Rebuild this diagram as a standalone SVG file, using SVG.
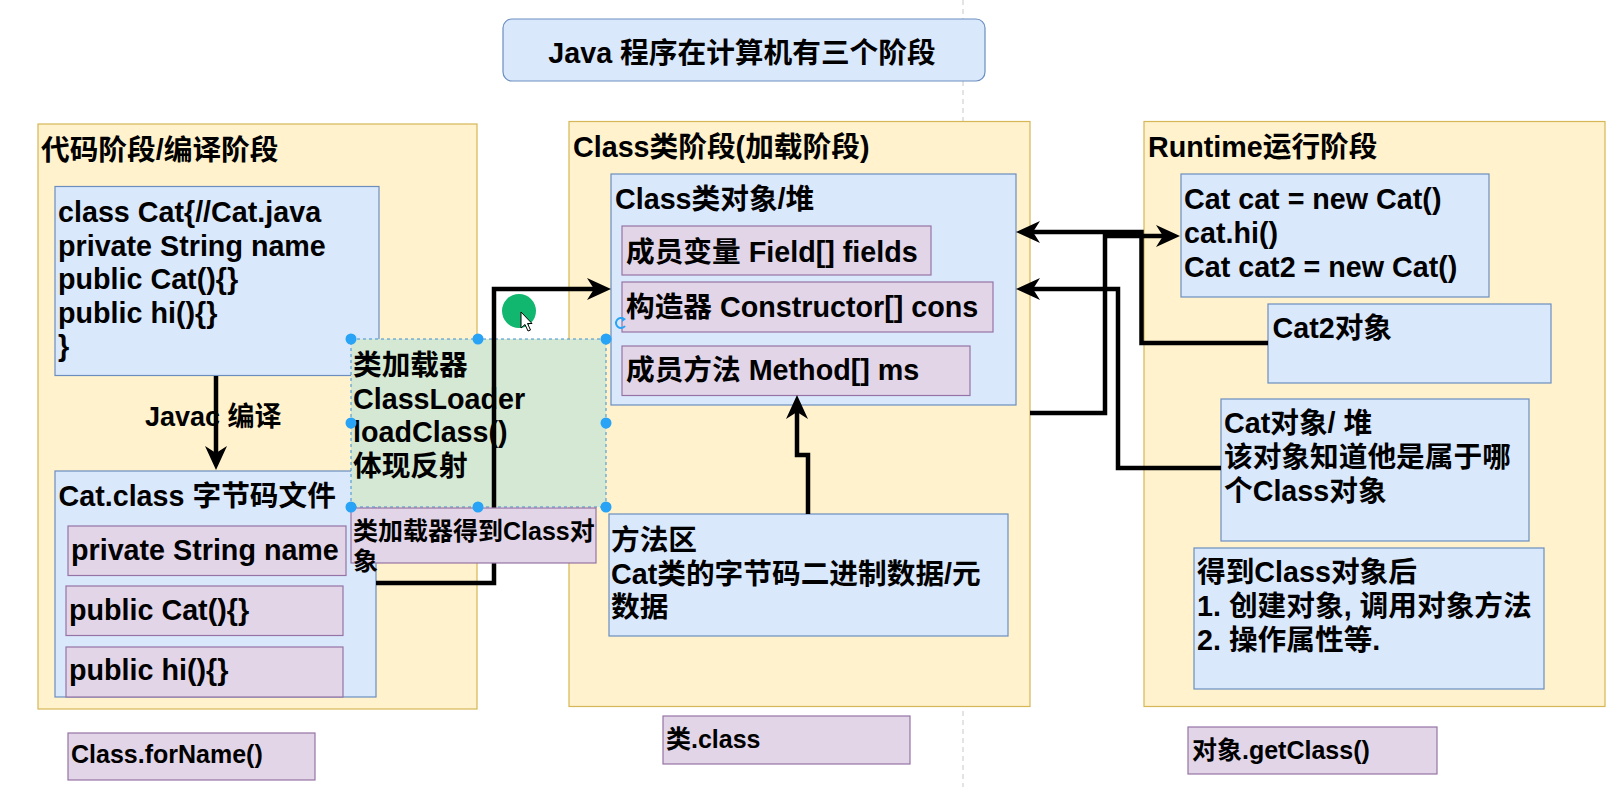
<svg xmlns="http://www.w3.org/2000/svg" width="1613" height="787" viewBox="0 0 1613 787">
<style>
.t{font-family:"Liberation Sans","Noto Sans CJK SC",sans-serif;font-weight:bold;font-size:28.7px;fill:#000}
.s{font-size:25px}
.yl{fill:#fff2cc;stroke:#d6b656;stroke-width:1.2}
.bl{fill:#dae8fc;stroke:#6c8ebf;stroke-width:1.2}
.pu{fill:#e1d5e7;stroke:#9673a6;stroke-width:1.2}
.ln{fill:none;stroke:#000;stroke-width:4.5;stroke-linejoin:miter}
.hd{fill:#29a3f5}
</style>
<defs>
<marker id="ah" viewBox="-17 -12 26 24" markerWidth="26" markerHeight="24" refX="0" refY="0" markerUnits="userSpaceOnUse" orient="auto">
<path d="M8,0 L-16,-11 L-9,0 L-16,11 Z" fill="#000"/>
</marker>
</defs>
<rect width="1613" height="787" fill="#fff"/>
<line x1="963" y1="0" x2="963" y2="787" stroke="#c8c8c8" stroke-width="1" stroke-dasharray="5 4"/>

<g id="title">
<rect x="503" y="19" width="482" height="62" rx="9" class="bl"/>
<text class="t" x="742" y="63" text-anchor="middle">Java 程序在计算机有三个阶段</text>
</g>

<g id="stage-code">
<rect x="38" y="124" width="439" height="585" class="yl"/>
<text class="t" x="41" y="160">代码阶段/编译阶段</text>
</g>
<g id="stage-class">
<rect x="569" y="121.5" width="461" height="585" class="yl"/>
<text class="t" x="573" y="157">Class类阶段(加载阶段)</text>
</g>
<g id="stage-runtime">
<rect x="1144" y="121.5" width="461" height="585" class="yl"/>
<text class="t" x="1148" y="157">Runtime运行阶段</text>
</g>

<g id="cat-java">
<rect x="55" y="186.5" width="324" height="189" class="bl"/>
<text class="t" x="58" y="222">class Cat{//Cat.java</text>
<text class="t" x="58" y="255.5">private String name</text>
<text class="t" x="58" y="289">public Cat(){}</text>
<text class="t" x="58" y="322.5">public hi(){}</text>
<text class="t" x="58" y="356">}</text>
</g>

<g id="javac-label">
<text class="t" x="145" y="426" style="font-size:27px">Javac 编译</text>
</g>

<g id="cat-class">
<rect x="55" y="471" width="321" height="226" class="bl"/>
<text class="t" x="58.5" y="505.5">Cat.class 字节码文件</text>
</g>
<g id="cc-field">
<rect x="68" y="526" width="278" height="49.5" class="pu"/>
<text class="t" x="71" y="560">private String name</text>
</g>
<g id="cc-ctor">
<rect x="66" y="586" width="277" height="49.5" class="pu"/>
<text class="t" x="69" y="619.5">public Cat(){}</text>
</g>
<g id="cc-method">
<rect x="66" y="647" width="277" height="50" class="pu"/>
<text class="t" x="69" y="680">public hi(){}</text>
</g>

<g id="forname">
<rect x="68" y="733" width="247" height="47" class="pu"/>
<text class="t s" x="71" y="763">Class.forName()</text>
</g>

<g id="class-object">
<rect x="611" y="174" width="405" height="231" class="bl"/>
<text class="t" x="615" y="209">Class类对象/堆</text>
</g>
<g id="co-field">
<rect x="622" y="226" width="309" height="49" class="pu"/>
<text class="t" x="626" y="261.5">成员变量 Field[] fields</text>
</g>
<g id="co-ctor">
<rect x="622" y="282" width="371" height="50" class="pu"/>
<text class="t" x="626" y="316.5">构造器 Constructor[] cons</text>
</g>
<g id="co-method">
<rect x="622" y="346" width="348" height="49.5" class="pu"/>
<text class="t" x="626" y="380">成员方法 Method[] ms</text>
</g>

<g id="method-area">
<rect x="609" y="514" width="399" height="122" class="bl"/>
<text class="t" x="611" y="550">方法区</text>
<text class="t" x="611" y="583.5">Cat类的字节码二进制数据/元</text>
<text class="t" x="611" y="617">数据</text>
</g>

<g id="dot-class">
<rect x="663" y="716" width="247" height="48" class="pu"/>
<text class="t s" x="666" y="748">类.class</text>
</g>

<g id="runtime-code">
<rect x="1181" y="174" width="308" height="123" class="bl"/>
<text class="t" x="1184" y="208.5">Cat cat = new Cat()</text>
<text class="t" x="1184" y="242.5">cat.hi()</text>
<text class="t" x="1184" y="276.5">Cat cat2 = new Cat()</text>
</g>
<g id="cat2-object">
<rect x="1268" y="304" width="283" height="79" class="bl"/>
<text class="t" x="1272.5" y="338">Cat2对象</text>
</g>
<g id="cat-object">
<rect x="1221" y="399" width="308" height="142" class="bl"/>
<text class="t" x="1224" y="433">Cat对象/ 堆</text>
<text class="t" x="1224" y="467">该对象知道他是属于哪</text>
<text class="t" x="1224" y="501">个Class对象</text>
</g>
<g id="after-class">
<rect x="1194" y="548" width="350" height="141" class="bl"/>
<text class="t" x="1197" y="581.5">得到Class对象后</text>
<text class="t" x="1197" y="616">1. 创建对象, 调用对象方法</text>
<text class="t" x="1197" y="650">2. 操作属性等.</text>
</g>
<g id="getclass">
<rect x="1188" y="727" width="249" height="47" class="pu"/>
<text class="t s" x="1192" y="759">对象.getClass()</text>
</g>

<g id="classloader">
<rect x="351" y="339" width="255" height="168" fill="#d5e8d4" stroke="#3d8fd1" stroke-width="1" stroke-dasharray="3 3"/>
<text class="t" x="353" y="375">类加载器</text>
<text class="t" x="353" y="408.5">ClassLoader</text>
<text class="t" x="353" y="442">loadClass()</text>
<text class="t" x="353" y="475.5">体现反射</text>
</g>

<g id="connectors">
<path class="ln" d="M216,376 L216,462" marker-end="url(#ah)"/>
<path class="ln" d="M376,583 L494,583 L494,289 L603,289" marker-end="url(#ah)"/>
<path class="ln" d="M808,514 L808,455 L797,455 L797,403" marker-end="url(#ah)"/>
<path class="ln" d="M1030,413 L1105,413 L1105,236 L1172,236" marker-end="url(#ah)"/>
<path class="ln" d="M1268,343 L1141.5,343 L1141.5,232 L1024,232" marker-end="url(#ah)"/>
<path class="ln" d="M1221,468 L1118,468 L1118,289 L1024,289" marker-end="url(#ah)"/>
</g>

<g id="loader-result">
<rect x="351" y="508" width="245" height="55" class="pu"/>
<text class="t s" x="353" y="540">类加载器得到Class对</text>
<text class="t s" x="353" y="570">象</text>
</g>

<g id="selection-handles">
<circle class="hd" cx="351" cy="339" r="5.5"/>
<circle class="hd" cx="478" cy="339" r="5.5"/>
<circle class="hd" cx="606" cy="339" r="5.5"/>
<circle class="hd" cx="351" cy="423" r="5.5"/>
<circle class="hd" cx="606" cy="423" r="5.5"/>
<circle class="hd" cx="351" cy="507" r="5.5"/>
<circle class="hd" cx="478" cy="507" r="5.5"/>
<circle class="hd" cx="606" cy="507" r="5.5"/>
<path d="M624,319 A5,5 0 1 0 625,326" fill="none" stroke="#29a3f5" stroke-width="2"/>
<path d="M622,317 L626,319 L622,322 Z" fill="#29a3f5"/>
</g>

<g id="cursor">
<circle cx="519" cy="311" r="17" fill="#12b76f"/>
<path d="M521,312 L521,328 L525,324.5 L528,331 L530.5,330 L527.5,323.5 L532,323.5 Z" fill="#fff" stroke="#000" stroke-width="1"/>
</g>
</svg>
